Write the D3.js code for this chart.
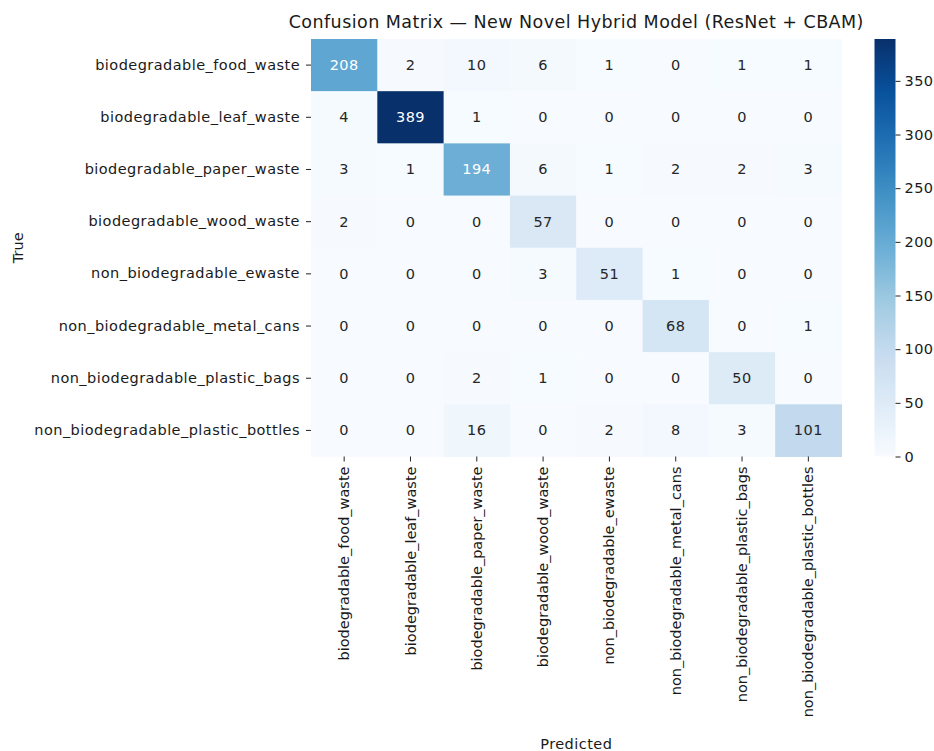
<!DOCTYPE html>
<html>
<head>
<meta charset="utf-8">
<script src="https://cdn.jsdelivr.net/npm/d3@7"></script>
<style>
  html, body { margin: 0; padding: 0; background: #fff; }
  svg { display: block; font-family: "DejaVu Sans", sans-serif; }
</style>
</head>
<body>
<svg id="chart" width="934" height="751"></svg>
<script>
// Class names (same order for true rows and predicted columns)
const classes = [
  "biodegradable_food_waste",
  "biodegradable_leaf_waste",
  "biodegradable_paper_waste",
  "biodegradable_wood_waste",
  "non_biodegradable_ewaste",
  "non_biodegradable_metal_cans",
  "non_biodegradable_plastic_bags",
  "non_biodegradable_plastic_bottles"
];

// Confusion matrix rows (true class) by predicted class
const rowFood    = [208, 2, 10, 6, 1, 0, 1, 1];
const rowLeaf    = [4, 389, 1, 0, 0, 0, 0, 0];
const rowPaper   = [3, 1, 194, 6, 1, 2, 2, 3];
const rowWood    = [2, 0, 0, 57, 0, 0, 0, 0];
const rowEwaste  = [0, 0, 0, 3, 51, 1, 0, 0];
const rowCans    = [0, 0, 0, 0, 0, 68, 0, 1];
const rowBags    = [0, 0, 2, 1, 0, 0, 50, 0];
const rowBottles = [0, 0, 16, 0, 2, 8, 3, 101];

const colorbarTicks = [0, 50, 100, 150, 200, 250, 300, 350];

const matrix = [rowFood, rowLeaf, rowPaper, rowWood, rowEwaste, rowCans, rowBags, rowBottles];

const svg = d3.select("#chart");

const plotLeft = 311, plotRight = 841.5, plotTop = 39, plotBottom = 456.5;
const cbLeft = 874.5, cbWidth = 21;

const fontTick = 14.5;
const hSpacing = "0.45px";   // horizontal text is set slightly looser
const textColor = "#1a1a1a";

const x = d3.scaleBand().domain(d3.range(classes.length)).range([plotLeft, plotRight]);
const y = d3.scaleBand().domain(d3.range(classes.length)).range([plotTop, plotBottom]);

const vmin = 0;
const vmax = d3.max(matrix.flat());

// Blues colour map: linear blend through the nine ColorBrewer stops
const bluesStops = ["#f7fbff","#deebf7","#c6dbef","#9ecae1","#6baed6","#4292c6","#2171b5","#08519c","#08306b"];
const color = d3.scaleLinear()
  .domain(bluesStops.map((_, i) => vmin + (vmax - vmin) * i / (bluesStops.length - 1)))
  .range(bluesStops)
  .interpolate(d3.interpolateRgb)
  .clamp(true);

function luminance(c) {
  const rgb = d3.rgb(c);
  const f = v => { v /= 255; return v <= 0.03928 ? v / 12.92 : Math.pow((v + 0.055) / 1.055, 2.4); };
  return 0.2126 * f(rgb.r) + 0.7152 * f(rgb.g) + 0.0722 * f(rgb.b);
}

const cells = [];
matrix.forEach((row, i) => row.forEach((v, j) => cells.push({ i, j, v })));

// Cells
svg.append("g").selectAll("rect").data(cells).join("rect")
  .attr("x", d => x(d.j))
  .attr("y", d => y(d.i))
  .attr("width", x.bandwidth() + 0.5)
  .attr("height", y.bandwidth() + 0.5)
  .attr("fill", d => color(d.v));

// Cell annotations
svg.append("g").selectAll("text").data(cells).join("text")
  .attr("x", d => x(d.j) + x.bandwidth() / 2)
  .attr("y", d => y(d.i) + y.bandwidth() / 2)
  .attr("text-anchor", "middle")
  .attr("dominant-baseline", "central")
  .attr("font-size", fontTick)
  .attr("letter-spacing", hSpacing)
  .attr("fill", d => luminance(color(d.v)) > 0.408 ? "#262626" : "#ffffff")
  .text(d => d.v);

// Y axis (true class)
const yAxis = d3.axisLeft(y).tickFormat(i => classes[i]).tickSize(5).tickPadding(6);
const gy = svg.append("g").attr("transform", `translate(${plotLeft},0)`).call(yAxis);
gy.select(".domain").remove();
gy.selectAll("text").attr("font-size", fontTick).attr("font-family", "DejaVu Sans")
  .attr("letter-spacing", hSpacing).attr("fill", textColor);
gy.selectAll("line").attr("stroke", "#222").attr("stroke-width", 1);

// X axis (predicted class), labels rotated vertical
const xAxis = d3.axisBottom(x).tickFormat(i => classes[i]).tickSize(5).tickPadding(4);
const gx = svg.append("g").attr("transform", `translate(0,${plotBottom})`).call(xAxis);
gx.select(".domain").remove();
gx.selectAll("line").attr("stroke", "#222").attr("stroke-width", 1);
gx.selectAll("text")
  .attr("font-size", fontTick).attr("font-family", "DejaVu Sans").attr("fill", textColor)
  .attr("transform", "rotate(-90)")
  .attr("text-anchor", "end")
  .attr("dy", "0.35em")
  .attr("x", -10)
  .attr("y", 0);

// Axis titles
svg.append("text")
  .attr("transform", `translate(23,${(plotTop + plotBottom) / 2}) rotate(-90)`)
  .attr("text-anchor", "middle")
  .attr("font-size", fontTick)
  .attr("fill", textColor)
  .text("True");

svg.append("text")
  .attr("x", (plotLeft + plotRight) / 2)
  .attr("y", 749)
  .attr("text-anchor", "middle")
  .attr("font-size", fontTick)
  .attr("letter-spacing", hSpacing)
  .attr("fill", textColor)
  .text("Predicted");

// Title
svg.append("text")
  .attr("x", (plotLeft + plotRight) / 2)
  .attr("y", 28)
  .attr("text-anchor", "middle")
  .attr("font-size", 17.5)
  .attr("letter-spacing", hSpacing)
  .attr("fill", textColor)
  .text("Confusion Matrix — New Novel Hybrid Model (ResNet + CBAM)");

// Colorbar
const cbScale = d3.scaleLinear().domain([vmin, vmax]).range([plotBottom, plotTop]);
const defs = svg.append("defs");
const grad = defs.append("linearGradient").attr("id", "cbGrad")
  .attr("x1", 0).attr("y1", 1).attr("x2", 0).attr("y2", 0);
d3.range(0, 1.0001, 0.02).forEach(t => {
  grad.append("stop").attr("offset", t).attr("stop-color", color(vmin + t * (vmax - vmin)));
});
svg.append("rect")
  .attr("x", cbLeft).attr("y", plotTop)
  .attr("width", cbWidth).attr("height", plotBottom - plotTop)
  .attr("fill", "url(#cbGrad)");

const cbAxis = d3.axisRight(cbScale).tickValues(colorbarTicks).tickSize(5).tickPadding(4);
const gcb = svg.append("g").attr("transform", `translate(${cbLeft + cbWidth},0)`).call(cbAxis);
gcb.select(".domain").remove();
gcb.selectAll("line").attr("stroke", "#222");
gcb.selectAll("text").attr("font-size", fontTick).attr("font-family", "DejaVu Sans")
  .attr("letter-spacing", hSpacing).attr("fill", textColor);
</script>
</body>
</html>
